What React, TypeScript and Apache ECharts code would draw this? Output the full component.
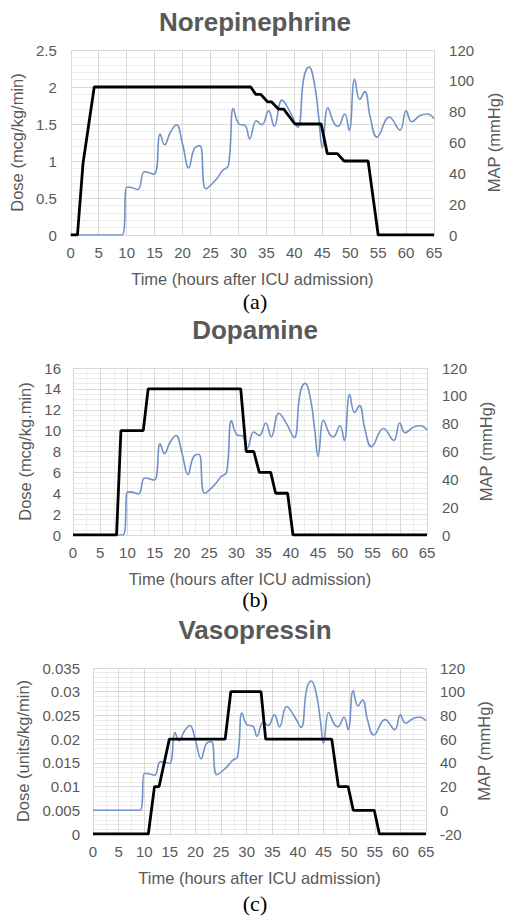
import React, { useEffect, useRef } from "react";
import * as echarts from "echarts";

// MAP (mmHg) over time (hours after ICU admission) — same patient curve in all panels
const mapValues: [number, number][] = [
  [0, 0], [9.2, 0], [10, 31], [10.5, 31], [12, 29.5], [13.2, 41], [14.9, 39.5],
  [16, 65.5], [16.8, 58.5], [17.8, 66.5], [18.9, 71.5], [20, 59], [21.1, 43.5],
  [22.1, 56], [23.1, 58], [24.2, 30], [26, 36], [27.2, 42], [28.2, 45], [29.1, 82],
  [30.1, 72], [31.2, 71], [32, 62.5], [33.2, 74], [34.2, 71.5], [35.4, 80.5],
  [36.4, 70.5], [37.8, 87.5], [39.2, 80], [40.6, 70], [41.7, 102], [42.6, 109],
  [43.6, 98], [44.4, 75], [45, 56.5], [46, 82.5], [47.1, 72.5], [47.8, 70.5],
  [49, 78.5], [49.8, 68], [50.8, 101], [51.7, 88], [52.6, 93], [53.6, 76],
  [54.8, 63.5], [57, 76.5], [58.9, 68], [60, 80.5], [61, 73.5], [62.5, 77.5],
  [63.8, 78.5], [65, 75.5],
];

const norepinephrineDose: [number, number][] = [
  [0, 0], [1.2, 0], [2.2, 0.97], [4.2, 2], [32.2, 2], [33.1, 1.9], [34, 1.9],
  [35.2, 1.8], [35.9, 1.8], [37.2, 1.7], [38.1, 1.7], [40.1, 1.5], [44.8, 1.5],
  [45.9, 1.1], [47.7, 1.1], [48.9, 1.0], [53.2, 1.0], [55, 0], [65, 0],
];

const dopamineDose: [number, number][] = [
  [0, 0], [8, 0], [8.8, 10], [12.9, 10], [13.8, 14], [30.8, 14], [31.8, 8],
  [33.2, 8], [34.2, 6], [36.3, 6], [37.2, 4], [39.4, 4], [40.4, 0], [65, 0],
];

const vasopressinDose: [number, number][] = [
  [0, 0], [10.8, 0], [12, 0.01], [12.9, 0.01], [14.9, 0.02], [25.8, 0.02],
  [26.9, 0.03], [32.8, 0.03], [33.7, 0.02], [46.6, 0.02], [47.9, 0.01],
  [49.8, 0.01], [50.8, 0.005], [54.9, 0.005], [55.9, 0], [65, 0],
];

const titles = ["Norepinephrine", "Dopamine", "Vasopressin"];
const captions = ["(a)", "(b)", "(c)"];
const doseNames = ["Dose (mcg/kg/min)", "Dose (mcg/kg.min)", "Dose (units/kg/min)"];
const mapName = "MAP (mmHg)";
const timeName = "Time (hours after ICU admission)";
const doseAxes = [
  { min: 0, max: 2.5, interval: 0.5 },
  { min: 0, max: 16, interval: 2 },
  { min: 0, max: 0.035, interval: 0.005 },
];
const mapAxes = [
  { min: 0, max: 120, interval: 20 },
  { min: 0, max: 120, interval: 20 },
  { min: -20, max: 120, interval: 20 },
];
const doses = [norepinephrineDose, dopamineDose, vasopressinDose];

const FONT = "'Liberation Sans', Arial, sans-serif";
const GRAY = "#595959";

const layout = [
  { left: 67, top: 50, width: 371, height: 185, lGap: 41, rGap: 49, lMargin: 14, rMargin: 15, minorV: false, minorH: 5, titleY: 22, capY: 301 },
  { left: 73, top: 368, width: 354, height: 167, lGap: 37, rGap: 50, lMargin: 12, rMargin: 15, minorV: true, minorH: 4, titleY: 330, capY: 599 },
  { left: 93, top: 668, width: 333, height: 166, lGap: 57, rGap: 49, lMargin: 13, rMargin: 14, minorV: true, minorH: 5, titleY: 630, capY: 903 },
];

export default function App() {
  const ref = useRef<HTMLDivElement>(null);
  useEffect(() => {
    if (!ref.current) return;
    const chart = echarts.init(ref.current, undefined, { renderer: "svg" });
    const grids: any[] = [];
    const xAxes: any[] = [];
    const yAxes: any[] = [];
    const series: any[] = [];
    const graphics: any[] = [];
    layout.forEach((L, i) => {
      grids.push({ left: L.left, top: L.top, width: L.width, height: L.height, containLabel: false });
      xAxes.push({
        type: "value", gridIndex: i, min: 0, max: 65, interval: 5,
        name: timeName, nameLocation: "middle", nameGap: 35,
        nameTextStyle: { fontSize: 16.5, color: GRAY, fontFamily: FONT },
        axisLine: { show: false }, axisTick: { show: false },
        axisLabel: { fontSize: 15, color: GRAY, fontFamily: FONT, margin: 10 },
        splitLine: { show: true, lineStyle: { color: "#d9d9d9", width: 1 } },
        minorTick: { show: false, splitNumber: 2 },
        minorSplitLine: { show: L.minorV, lineStyle: { color: "#ececec", width: 1 } },
      });
      const da = doseAxes[i];
      yAxes.push({
        type: "value", gridIndex: i, position: "left", min: da.min, max: da.max, interval: da.interval,
        name: doseNames[i], nameLocation: "middle", nameGap: L.lGap,
        nameTextStyle: { fontSize: 16.5, color: GRAY, fontFamily: FONT },
        axisLine: { show: false }, axisTick: { show: false },
        axisLabel: {
          fontSize: 15, color: GRAY, fontFamily: FONT, margin: L.lMargin,
          formatter: (v: number) => String(parseFloat(v.toFixed(4))),
        },
        splitLine: { show: true, lineStyle: { color: "#d9d9d9", width: 1 } },
        minorTick: { show: false, splitNumber: L.minorH },
        minorSplitLine: { show: true, lineStyle: { color: "#ececec", width: 1 } },
      });
      const ma = mapAxes[i];
      yAxes.push({
        type: "value", gridIndex: i, position: "right", min: ma.min, max: ma.max, interval: ma.interval,
        name: mapName, nameLocation: "middle", nameGap: L.rGap,
        nameTextStyle: { fontSize: 16.5, color: GRAY, fontFamily: FONT },
        axisLine: { show: false }, axisTick: { show: false },
        axisLabel: { fontSize: 15, color: GRAY, fontFamily: FONT, margin: L.rMargin },
        splitLine: { show: false },
      });
      series.push({
        type: "line", xAxisIndex: i, yAxisIndex: i * 2 + 1, data: mapValues,
        smooth: 0.45, symbol: "none", lineStyle: { color: "#7192c9", width: 1.6 },
        z: 2,
      });
      series.push({
        type: "line", xAxisIndex: i, yAxisIndex: i * 2, data: doses[i],
        smooth: false, symbol: "none", lineStyle: { color: "#000000", width: 2.8 },
        z: 3,
      });
      graphics.push({
        type: "text", x: 255, y: L.titleY,
        style: {
          text: titles[i], font: `bold 26px ${FONT}`, fill: GRAY,
          textAlign: "center", textVerticalAlign: "middle", align: "center", verticalAlign: "middle",
        },
      });
      graphics.push({
        type: "text", x: 255, y: L.capY,
        style: {
          text: captions[i], font: `22px 'Liberation Serif', 'Times New Roman', serif`, fill: "#000",
          textAlign: "center", textVerticalAlign: "middle", align: "center", verticalAlign: "middle",
        },
      });
    });
    chart.setOption({
      animation: false,
      backgroundColor: "#ffffff",
      grid: grids,
      xAxis: xAxes,
      yAxis: yAxes,
      series,
      graphic: graphics,
    });
    return () => chart.dispose();
  }, []);
  return (
    <div
      ref={ref}
      style={{ position: "absolute", left: 0, top: 0, width: 510, height: 921 }}
    />
  );
}
